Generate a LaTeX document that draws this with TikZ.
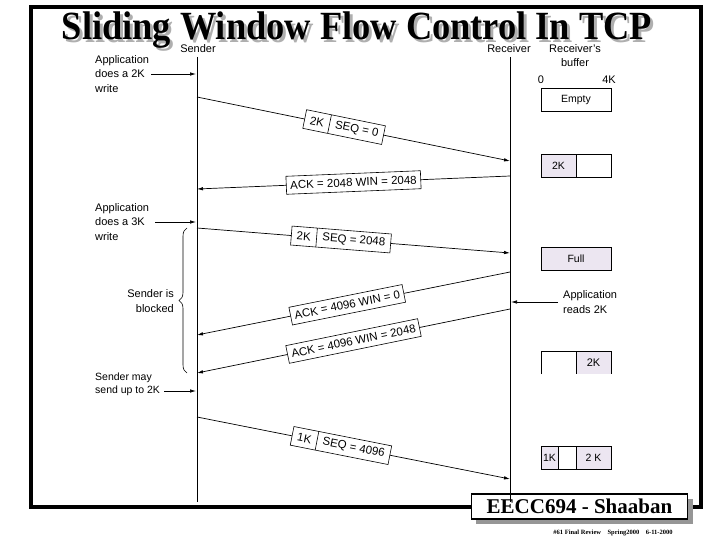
\documentclass[tikz,border=0pt]{standalone}
\usepackage{fontspec}
\setmainfont{Liberation Serif}
\setsansfont{Liberation Sans}
\usetikzlibrary{arrows.meta, shapes.multipart, decorations.pathreplacing}
\definecolor{cbuf}{RGB}{236,230,241}
\definecolor{cshade}{RGB}{175,175,175}
\definecolor{cfoot}{RGB}{150,150,150}

\begin{document}
\begin{tikzpicture}[x=1pt, y=-1pt,
  lbl/.style={font=\sffamily\fontsize{11}{14.5}\selectfont, inner sep=0pt},
  msg/.style={line width=0.7pt, -{Latex[length=6pt,width=3.5pt]}},
  seg/.style={draw, fill=white, line width=0.6pt, sloped,
    rectangle split, rectangle split horizontal, rectangle split parts=2,
    font=\sffamily\fontsize{11.5}{12}\selectfont, inner xsep=5.5pt, inner ysep=2pt, minimum height=19pt},
  ack/.style={draw, fill=white, line width=0.6pt, sloped,
    font=\sffamily\fontsize{11.5}{12}\selectfont, inner xsep=4pt, inner ysep=2pt, minimum height=18pt},
  cell/.style={draw, line width=0.6pt, minimum height=23pt, inner sep=0pt,
    font=\sffamily\fontsize{10.5}{12}\selectfont},
  ttl/.style={font=\bfseries\fontsize{40}{40}\selectfont, xscale=.91, transform shape, anchor=base,
    inner sep=0pt, text depth=0pt},
]

\useasboundingbox (0,0) rectangle (720,540);

% title with shadow
\node[ttl, text=cshade] (titleshade) at (360,43) {Sliding Window Flow Control In TCP};
\node[ttl] (title) at (357,40) {Sliding Window Flow Control In TCP};

% frame and footer
\draw[line width=4pt] (31,7) rectangle (701,507);
\fill[cfoot] (476,499) rectangle (693,524);
\node[draw, fill=white, line width=1.2pt, minimum width=216pt, minimum height=25pt, inner sep=0pt,
  font=\bfseries\fontsize{21}{21}\selectfont] (footer) at (579.5,506.5) {EECC694 - Shaaban};
\node[font=\bfseries\fontsize{6.5}{7}\selectfont] (footnote) at (613,533) {\#61 Final Review\quad Spring2000\quad 6-11-2000};

% lifelines
\coordinate (sendtop) at (197,57);
\coordinate (sendbot) at (197,502);
\coordinate (recvtop) at (510,57);
\coordinate (recvbot) at (510,502);
\draw[line width=0.9pt] (sendtop) -- (sendbot);
\draw[line width=0.9pt] (recvtop) -- (recvbot);
\node[lbl] (sender) at (198,48.5) {Sender};
\node[lbl] (receiver) at (509,48.5) {Receiver};
\node[lbl, align=center] (rbuf) at (575,55.5) {Receiver's\\buffer};
\node[lbl] (bzero) at (541,80) {0};
\node[lbl] (bfour) at (609,80) {4K};

% sender side notes
\node[lbl, align=left, anchor=west] (write2) at (95,74) {Application\\does a 2K\\write};
\node[lbl, align=left, anchor=west] (write3) at (95,222) {Application\\does a 3K\\write};
\node[lbl, align=right, anchor=east] (blocked) at (174,301) {Sender is\\blocked};
\node[lbl, align=left, anchor=west, font=\sffamily\fontsize{10.5}{13.5}\selectfont] (mayend) at (95,384.5) {Sender may\\send up to 2K};
\coordinate (w2) at (151,74);
\coordinate (w2e) at (196,74);
\coordinate (w3) at (155,222);
\coordinate (w3e) at (196,222);
\coordinate (mse) at (196,391);
\coordinate[xshift=4pt] (ms) at (mayend.east |- mse);
\draw[msg] (w2) -- (w2e);
\draw[msg] (w3) -- (w3e);
\draw[msg] (ms) -- (mse);
\draw[decorate, decoration={brace, amplitude=8pt}, line width=0.6pt] (187,373) -- (187,228);

% receiver side note
\node[lbl, align=left, anchor=west] (reads) at (563,302) {Application\\reads 2K};
\coordinate (rd) at (558,302);
\coordinate (rde) at (511,302);
\draw[msg] (rd) -- (rde);

% segments
\coordinate (s1) at (197,97);   \coordinate (r1) at (510,161);
\coordinate (r2) at (510,176);  \coordinate (s2) at (197,189);
\coordinate (s3) at (197,228);  \coordinate (r3) at (510,253);
\coordinate (r4) at (510,272);  \coordinate (s4) at (197,335);
\coordinate (r5) at (510,309);  \coordinate (s5) at (197,373);
\coordinate (s6) at (197,417);  \coordinate (r6) at (510,479);

\draw[msg] (s1) -- node[seg, pos=.47] (seg1) {2K\nodepart{two}SEQ = 0} (r1);
\draw[msg] (r2) -- node[ack, pos=.5] (ack1) {ACK = 2048 WIN = 2048} (s2);
\draw[msg] (s3) -- node[seg, pos=.46] (seg2) {2K\nodepart{two}SEQ = 2048} (r3);
\draw[msg] (r4) -- node[ack, pos=.52] (ack2) {ACK = 4096 WIN = 0} (s4);
\draw[msg] (r5) -- node[ack, pos=.5] (ack3) {ACK = 4096 WIN = 2048} (s5);
\draw[msg] (s6) -- node[seg, pos=.46] (seg3) {1K\nodepart{two}SEQ = 4096} (r6);

% receiver buffer states
\node[cell, minimum width=70pt] (buf1) at (576,100) {Empty};
\node[cell, minimum width=35pt, fill=cbuf] (buf2a) at (558.5,166) {2K};
\node[cell, minimum width=35pt] (buf2b) at (593.5,166) {};
\node[cell, minimum width=70pt, fill=cbuf] (buf3) at (576,258.5) {Full};
\fill[cbuf] (576,351) rectangle (611,374);
\draw[line width=0.6pt] (541,374) -- (541,351) -- (611,351) -- (611,374);
\draw[line width=0.6pt] (576,351) -- (576,374);
\node[lbl] (buf4) at (593.5,362.5) {2K};
\node[cell, minimum width=17pt, fill=cbuf] (buf5a) at (549.5,457.5) {1K};
\node[cell, minimum width=18pt] (buf5b) at (567,457.5) {};
\node[cell, minimum width=35pt, fill=cbuf] (buf5c) at (593.5,457.5) {2 K};

\end{tikzpicture}
\end{document}
